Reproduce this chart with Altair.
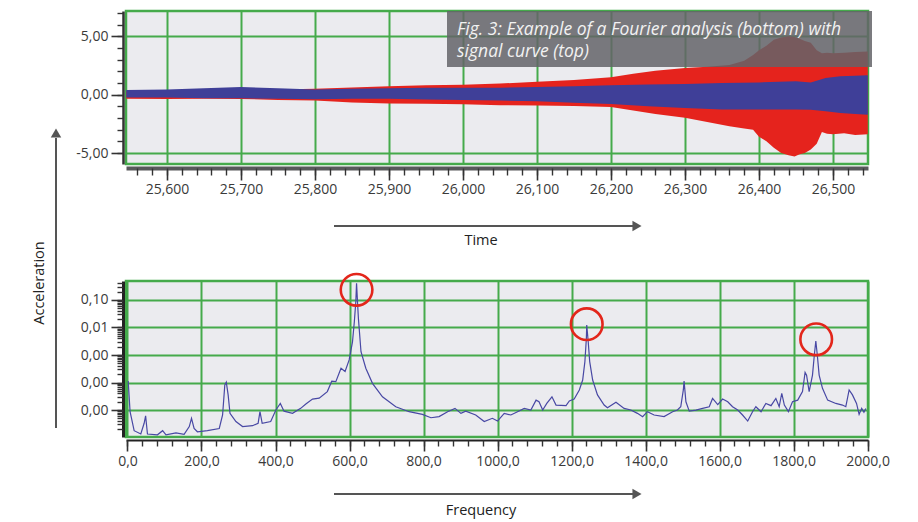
import altair as alt
import pandas as pd
import numpy as np

# ---------------- data: signal curve (top) ----------------
time_red = [25545, 25600, 25650, 25700, 25750, 25800, 25850, 25900, 25950, 26000,
            26050, 26100, 26150, 26200, 26230, 26260, 26300, 26330, 26360, 26380,
            26392, 26400, 26410, 26420, 26430, 26440, 26448, 26455, 26462, 26470,
            26478, 26485, 26492, 26500, 26515, 26530, 26547]
red_upper = [0.30, 0.32, 0.35, 0.42, 0.45, 0.50, 0.62, 0.72, 0.80, 0.86,
             0.95, 1.10, 1.25, 1.50, 1.80, 2.05, 2.28, 2.40, 2.55, 2.90,
             3.40, 3.80, 4.20, 4.70, 4.90, 5.00, 4.95, 4.80, 4.60, 4.45,
             3.80, 3.55, 3.60, 3.55, 3.60, 3.65, 3.70]
red_lower = [-0.35, -0.38, -0.35, -0.36, -0.45, -0.50, -0.68, -0.75, -0.78, -0.82,
             -0.90, -0.93, -0.98, -1.05, -1.35, -1.65, -1.98, -2.35, -2.70, -2.90,
             -3.00, -3.60, -4.00, -4.55, -5.00, -5.20, -5.30, -5.10, -5.00, -4.70,
             -4.20, -3.20, -3.35, -3.40, -3.30, -3.45, -3.40]

time_blue = [25545, 25600, 25650, 25700, 25750, 25800, 25850, 25900, 25950, 26000,
             26050, 26100, 26150, 26200, 26250, 26300, 26350, 26400, 26450, 26470,
             26490, 26510, 26530, 26547]
blue_upper = [0.40, 0.45, 0.55, 0.65, 0.55, 0.45, 0.50, 0.55, 0.60, 0.60,
              0.60, 0.65, 0.72, 0.80, 0.88, 0.92, 1.00, 1.05, 1.14, 1.05,
              1.43, 1.57, 1.62, 1.66]
blue_lower = [-0.25, -0.25, -0.30, -0.30, -0.35, -0.40, -0.35, -0.35, -0.42, -0.45,
              -0.50, -0.56, -0.70, -0.80, -1.00, -1.14, -1.28, -1.28, -1.28, -1.30,
              -1.42, -1.56, -1.65, -1.71]

# ---------------- data: Fourier spectrum (bottom), log10 amplitude ----------------
freq = [2, 7, 18, 36, 45, 49, 54, 81, 95, 104, 131, 153, 167, 173, 180, 189, 216, 248,
        257, 263, 267, 272, 277, 293, 311, 338, 353, 358, 364, 387, 401, 413, 423, 446,
        468, 482, 500, 518, 540, 552, 563, 577, 588, 599, 608, 613, 617, 619, 622, 624,
        631, 644, 662, 689, 725, 761, 797, 820, 842, 865, 885, 901, 914, 941, 964, 986,
        1000, 1018, 1036, 1054, 1072, 1090, 1104, 1112, 1122, 1133, 1147, 1158, 1185,
        1194, 1207, 1221, 1230, 1236, 1240, 1241, 1245, 1249, 1257, 1270, 1288, 1297,
        1320, 1342, 1360, 1378, 1392, 1405, 1423, 1450, 1473, 1486, 1495, 1502, 1504,
        1509, 1518, 1536, 1554, 1572, 1581, 1595, 1608, 1622, 1635, 1649, 1662, 1676,
        1689, 1698, 1712, 1725, 1739, 1752, 1761, 1768, 1775, 1786, 1797, 1811, 1824,
        1831, 1835, 1842, 1851, 1856, 1860, 1864, 1869, 1878, 1892, 1914, 1932, 1941,
        1950, 1959, 1970, 1977, 1984, 1990, 1995]
level = [-3.95, -5.06, -5.75, -5.87, -5.48, -5.21, -5.87, -5.90, -5.75, -5.90, -5.83,
         -5.88, -5.60, -5.30, -5.67, -5.79, -5.75, -5.67, -5.18, -4.09, -3.99, -4.45,
         -5.12, -5.42, -5.60, -5.57, -5.48, -5.06, -5.48, -5.42, -5.00, -4.76, -5.04,
         -5.12, -4.94, -4.78, -4.60, -4.57, -4.33, -3.95, -3.97, -3.48, -3.60, -3.18,
         -2.52, -1.79, -1.06, -0.39, -1.18, -1.67, -2.88, -3.48, -4.03, -4.52, -4.88,
         -5.06, -5.16, -5.28, -5.24, -5.06, -4.94, -5.12, -5.04, -5.18, -5.42, -5.30,
         -5.40, -5.12, -5.18, -5.06, -4.94, -5.00, -4.64, -4.70, -5.00, -4.76, -4.52,
         -4.82, -4.84, -4.67, -4.60, -4.27, -3.91, -3.24, -2.39, -1.91, -2.52, -3.24,
         -3.91, -4.45, -4.82, -4.92, -4.72, -4.94, -5.00, -5.12, -5.24, -5.06, -5.18,
         -5.24, -5.06, -5.00, -4.88, -4.27, -3.95, -4.70, -5.04, -5.00, -4.94, -4.88,
         -4.58, -4.80, -4.60, -4.70, -4.88, -5.00, -5.18, -5.40, -5.06, -4.88, -5.06,
         -4.76, -4.84, -4.58, -4.88, -4.39, -4.82, -5.06, -4.70, -4.64, -4.33, -3.63,
         -3.73, -4.33, -3.73, -3.00, -2.49, -3.00, -3.73, -4.21, -4.64, -4.76, -4.82,
         -4.88, -4.27, -4.45, -4.76, -5.16, -4.94, -5.08, -4.94]

marker_freq = [619, 1241, 1861]
marker_level = [-0.63, -1.88, -2.43]

# tick values
top_x_major = list(range(25600, 26501, 100))
top_x_minor = list(range(25560, 26541, 20))
top_y_major = [-5, 0, 5]
top_y_minor = list(range(-5, 8))
bot_x_major = list(range(0, 2001, 200))
bot_x_minor = list(range(0, 2001, 40))
bot_y_major = [-1, -2, -3, -4, -5]
bot_y_minor = [float(np.log10(k) + d) for d in range(-6, 0) for k in range(1, 10)
               if -5.98 <= np.log10(k) + d <= -0.31]

FONT = "Open Sans"
GREEN = "#45aa4b"
LABEL = "#3a3a3a"
W = 742

def major_axis(orient, values, label_expr=None, fmt=None, tick=12, dom_w=2.5,
               dom_c="#333333", offset=3, pad=3):
    kw = dict(orient=orient, values=values, grid=True, gridColor=GREEN, gridWidth=2,
              domain=True, domainColor=dom_c, domainWidth=dom_w, tickColor="#333333",
              tickSize=tick, tickWidth=1.6, labelFont=FONT, labelFontSize=14,
              labelColor=LABEL, labelPadding=pad, offset=offset, title=None,
              labelFlush=False, labelOverlap=False)
    if label_expr:
        kw["labelExpr"] = label_expr
    if fmt:
        kw["format"] = fmt
    return alt.Axis(**kw)

def minor_axis(orient, values, tick=6, offset=3):
    return alt.Axis(orient=orient, values=values, grid=False, domain=False, labels=False,
                    tickColor="#333333", tickSize=tick, tickWidth=1.4, offset=offset,
                    title=None)

one = pd.DataFrame({"k": [0]})

def hrule(x, x2, y):
    return alt.Chart(one).mark_rule(color="#555555", strokeWidth=2).encode(
        x=alt.value(x), x2=alt.value(x2), y=alt.value(y))

def arrowhead(x, y, shape):
    return alt.Chart(one).mark_point(shape=shape, filled=True, color="#555555",
                                     size=110, opacity=1).encode(
        x=alt.value(x), y=alt.value(y))

def label(x, y, txt, angle=0):
    kw = dict(font=FONT, fontSize=14.5, color="#222222", align="center", baseline="middle")
    if angle:
        kw["angle"] = angle
    return alt.Chart(one).mark_text(**kw).encode(
        x=alt.value(x), y=alt.value(y), text=alt.value(txt))

# ---------------- top panel ----------------
xs_top = alt.Scale(domain=[25544.6, 26547.3], nice=False, zero=False)
ys_top = alt.Scale(domain=[-5.94, 7.17], nice=False, zero=False)
dec_expr = "replace(replace(format(datum.value, '.2f'), '.', ','), '\u2212', '-')"

red_df = pd.DataFrame({"t": time_red, "hi": red_upper, "lo": red_lower})
blue_df = pd.DataFrame({"t": time_blue, "hi": blue_upper, "lo": blue_lower})

red = alt.Chart(red_df).mark_area(color="#e5231d", opacity=1).encode(
    x=alt.X("t:Q", scale=xs_top,
            axis=major_axis("bottom", top_x_major, fmt=",d", tick=12, dom_w=4,
                            dom_c="#58595b", offset=4, pad=2)),
    y=alt.Y("hi:Q", scale=ys_top,
            axis=major_axis("left", top_y_major, label_expr=dec_expr, tick=12)),
    y2="lo:Q")
blue = alt.Chart(blue_df).mark_area(color="#3f3f98", opacity=1).encode(
    x=alt.X("t:Q", scale=xs_top, axis=minor_axis("bottom", top_x_minor, tick=7, offset=4)),
    y=alt.Y("hi:Q", scale=ys_top, axis=minor_axis("left", top_y_minor, tick=6)),
    y2="lo:Q")

caption_box = alt.Chart(one).mark_rect(color="#646468", opacity=0.85).encode(
    x=alt.value(321), x2=alt.value(746), y=alt.value(0), y2=alt.value(56))
caption_line1 = alt.Chart(one).mark_text(
    font=FONT, fontSize=17.5, fontStyle="italic", color="#f2f2f2", align="left",
    baseline="alphabetic").encode(
    x=alt.value(331), y=alt.value(24),
    text=alt.value("Fig. 3: Example of a Fourier analysis (bottom) with"))
caption_line2 = alt.Chart(one).mark_text(
    font=FONT, fontSize=17.5, fontStyle="italic", color="#f2f2f2", align="left",
    baseline="alphabetic").encode(
    x=alt.value(331), y=alt.value(46),
    text=alt.value("signal curve (top)"))

top = alt.layer(
    red, blue, caption_box, caption_line1, caption_line2,
    hrule(208, 510, 215), arrowhead(511, 215, "triangle-right"),
    label(355, 230, "Time"),
).resolve_axis(x="independent", y="independent").properties(width=W, height=153)

# ---------------- bottom panel ----------------
xs_bot = alt.Scale(domain=[-4, 2001], nice=False, zero=False)
ys_bot = alt.Scale(domain=[-5.98, -0.31], nice=False, zero=False)
log_expr = "replace(format(pow(10, datum.value), '.2f'), '.', ',')"
x_expr = "replace(format(datum.value, '.1f'), '.', ',')"

spec_df = pd.DataFrame({"f": freq, "L": level})
marker_df = pd.DataFrame({"mf": marker_freq, "mL": marker_level})

spectrum = alt.Chart(spec_df).mark_line(color="#4848a4", strokeWidth=1.2).encode(
    x=alt.X("f:Q", scale=xs_bot,
            axis=major_axis("bottom", bot_x_major, label_expr=x_expr, tick=11, dom_w=2,
                            dom_c="#222222", offset=3, pad=3)),
    y=alt.Y("L:Q", scale=ys_bot,
            axis=major_axis("left", bot_y_major, label_expr=log_expr, tick=12, dom_w=3,
                            dom_c="#222222")))
circles = alt.Chart(marker_df).mark_point(shape="circle", filled=False, color="#e3261b",
                                          strokeWidth=2.6, size=1000, opacity=1).encode(
    x=alt.X("mf:Q", scale=xs_bot, axis=minor_axis("bottom", bot_x_minor, tick=6, offset=3)),
    y=alt.Y("mL:Q", scale=ys_bot, axis=minor_axis("left", bot_y_minor, tick=6)))

vert_arrow = alt.Chart(one).mark_rule(color="#555555", strokeWidth=2).encode(
    x=alt.value(-70), y=alt.value(147), y2=alt.value(-143))

bottom = alt.layer(
    spectrum, circles,
    hrule(208, 510, 213), arrowhead(511, 213, "triangle-right"),
    label(355, 230, "Frequency"),
    vert_arrow, arrowhead(-70, -148, "triangle-up"),
    label(-86, 2, "Acceleration", angle=270),
).resolve_axis(x="independent", y="independent").properties(width=W, height=156)

chart = alt.vconcat(top, bottom, spacing=117, bounds="flush").configure_view(
    fill="#ebebef", stroke=GREEN, strokeWidth=2.5
).properties(padding={"left": 22, "top": 1, "right": 5, "bottom": 5})

chart.save("out.html", embed_options={"renderer": "svg", "actions": False})
